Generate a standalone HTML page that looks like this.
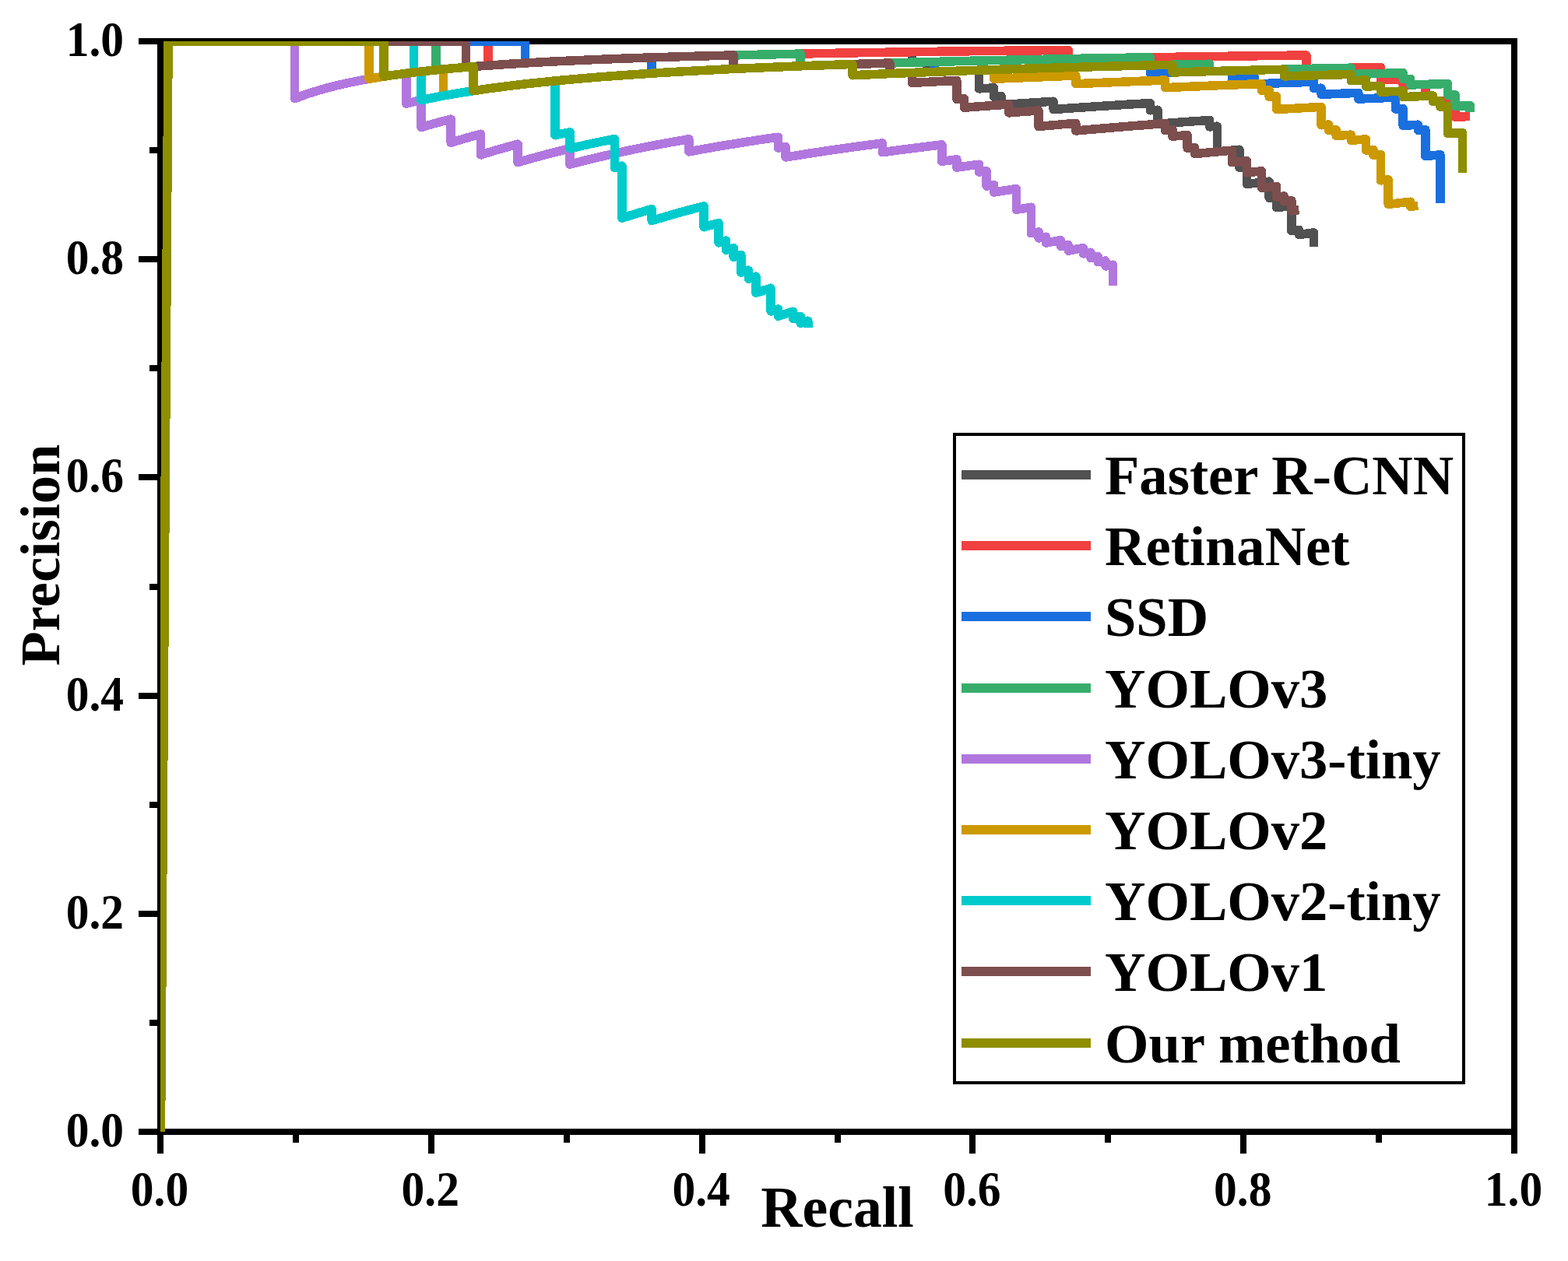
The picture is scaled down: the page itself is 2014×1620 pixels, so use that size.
<!DOCTYPE html>
<html lang="en"><head><meta charset="utf-8"><title>Precision-Recall curves</title>
<style>
html,body{margin:0;padding:0;background:#fff;}
body{width:2014px;height:1620px;overflow:hidden;}
svg{display:block;}
text{font-family:"Liberation Serif","Times New Roman",serif;font-weight:bold;fill:#000;}
.tk{font-size:59.5px;}
.ti{font-size:73.7px;}.tp{font-size:72.6px;}
.lg{font-size:72.6px;}
.ax{stroke:#000;stroke-width:8;fill:none;}
.cv{fill:none;stroke-width:11.5;stroke-linejoin:round;stroke-linecap:butt;}
</style></head><body>
<svg width="2014" height="1620" viewBox="0 0 2014 1620">
<rect x="0" y="0" width="2014" height="1620" fill="#fff"/>
<defs><clipPath id="plot"><rect x="206" y="53" width="1739" height="1402"/></clipPath></defs>
<g class="ax" shape-rendering="crispEdges">
<rect x="206" y="53" width="1739" height="1401"/>
<path d="M206 1454V1482M178 1454H206M379.9 1454V1468M192 1313.9H206M553.8 1454V1482M178 1173.8H206M727.7 1454V1468M192 1033.7H206M901.6 1454V1482M178 893.6H206M1075.5 1454V1468M192 753.5H206M1249.4 1454V1482M178 613.4H206M1423.3 1454V1468M192 473.3H206M1597.2 1454V1482M178 333.2H206M1771.1 1454V1468M192 193.1H206M1945 1454V1482M178 53H206"/>
</g>
<g clip-path="url(#plot)" shape-rendering="crispEdges">
<path class="cv" stroke="#515151" d="M206.5 1454 L216.1 53 L225.6 53 L235.2 53 L244.7 53 L254.3 53 L263.8 53 L273.4 53 L282.9 53 L292.5 53 L302 53 L311.6 53 L321.2 53 L330.7 53 L340.3 53 L349.8 53 L359.4 53 L368.9 53 L378.5 53 L388 53 L397.6 53 L407.2 53 L416.7 53 L426.3 53 L435.8 53 L445.4 53 L454.9 53 L464.5 53 L474 53 L483.6 53 L493.1 53 L502.7 53 L512.3 53 L521.8 53 L531.4 53 L540.9 53 L550.5 53 L560 53 L569.6 53 L579.1 53 L588.7 53 L598.3 53 L607.8 53 L617.4 53 L626.9 53 L636.5 53 L646 53 L655.6 53 L665.1 53 L674.7 53 L674.7 81 L684.2 80.5 L693.8 79.9 L703.4 79.4 L712.9 78.9 L722.5 78.5 L732 78 L741.6 77.6 L751.1 77.2 L760.7 76.7 L770.2 76.4 L779.8 76 L789.4 75.6 L798.9 75.2 L808.5 74.9 L818 74.6 L827.6 74.2 L837.1 73.9 L846.7 73.6 L856.2 73.3 L865.8 73 L875.3 72.7 L884.9 72.5 L894.5 72.2 L904 71.9 L913.6 71.7 L923.1 71.4 L932.7 71.2 L942.2 71 L951.8 70.7 L961.3 70.5 L970.9 70.3 L980.5 70.1 L990 69.9 L999.6 69.7 L1009.1 69.5 L1018.7 69.3 L1028.2 69.1 L1037.8 68.9 L1047.3 68.7 L1056.9 68.6 L1066.4 68.4 L1076 68.2 L1085.6 68.1 L1095.1 67.9 L1104.7 67.7 L1114.2 67.6 L1123.8 67.4 L1133.3 67.3 L1142.9 67.2 L1152.4 67 L1162 66.9 L1171.5 66.7 L1171.5 80.2 L1181.1 79.9 L1190.7 79.7 L1190.7 92.7 L1200.2 92.3 L1209.8 91.9 L1219.3 91.6 L1228.9 91.2 L1238.4 90.9 L1248 90.5 L1257.5 90.2 L1257.5 113.9 L1267.1 113.4 L1276.7 112.9 L1276.7 124.2 L1286.2 123.6 L1286.2 134.7 L1295.8 134 L1305.3 133.4 L1314.9 132.7 L1324.4 132.1 L1334 131.5 L1343.5 130.8 L1353.1 130.2 L1353.1 140.6 L1362.6 139.9 L1372.2 139.2 L1381.8 138.6 L1391.3 137.9 L1400.9 137.3 L1410.4 136.6 L1420 136 L1429.5 135.4 L1439.1 134.8 L1448.6 134.2 L1458.2 133.6 L1467.8 133.1 L1477.3 132.5 L1477.3 141.8 L1486.9 141.2 L1486.9 159.3 L1496.4 158.6 L1506 157.8 L1515.5 157.1 L1525.1 156.4 L1534.6 155.7 L1544.2 155.1 L1553.7 154.4 L1553.7 162.9 L1563.3 162.2 L1563.3 194.9 L1572.9 194 L1582.4 193.1 L1592 192.2 L1592 215.3 L1601.5 214.3 L1601.5 236.5 L1611.1 235.4 L1620.6 234.3 L1630.2 233.2 L1630.2 254.3 L1639.7 253.1 L1639.7 266.7 L1649.3 265.5 L1658.9 264.3 L1658.9 296.7 L1668.4 295.3 L1668.4 301.6 L1678 300.2 L1687.5 298.9 L1687.5 317.1"/>
<path class="cv" stroke="#F14040" d="M206.5 1454 L216.1 53 L225.6 53 L235.2 53 L244.7 53 L254.3 53 L263.8 53 L273.4 53 L282.9 53 L292.5 53 L302 53 L311.6 53 L321.2 53 L330.7 53 L340.3 53 L349.8 53 L359.4 53 L368.9 53 L378.5 53 L388 53 L397.6 53 L407.2 53 L416.7 53 L426.3 53 L435.8 53 L445.4 53 L454.9 53 L464.5 53 L474 53 L483.6 53 L493.1 53 L502.7 53 L512.3 53 L521.8 53 L531.4 53 L540.9 53 L550.5 53 L560 53 L569.6 53 L579.1 53 L588.7 53 L598.3 53 L607.8 53 L617.4 53 L626.9 53 L626.9 84.1 L636.5 83.5 L646 82.8 L655.6 82.2 L665.1 81.6 L674.7 81 L684.2 80.5 L693.8 79.9 L703.4 79.4 L712.9 78.9 L722.5 78.5 L732 78 L741.6 77.6 L751.1 77.2 L760.7 76.7 L770.2 76.4 L779.8 76 L789.4 75.6 L798.9 75.2 L808.5 74.9 L818 74.6 L827.6 74.2 L837.1 73.9 L846.7 73.6 L856.2 73.3 L865.8 73 L875.3 72.7 L884.9 72.5 L894.5 72.2 L904 71.9 L913.6 71.7 L923.1 71.4 L932.7 71.2 L942.2 71 L951.8 70.7 L961.3 70.5 L970.9 70.3 L980.5 70.1 L990 69.9 L999.6 69.7 L1009.1 69.5 L1018.7 69.3 L1028.2 69.1 L1037.8 68.9 L1047.3 68.7 L1056.9 68.6 L1066.4 68.4 L1076 68.2 L1085.6 68.1 L1095.1 67.9 L1104.7 67.7 L1114.2 67.6 L1123.8 67.4 L1133.3 67.3 L1142.9 67.2 L1152.4 67 L1162 66.9 L1171.5 66.7 L1181.1 66.6 L1190.7 66.5 L1200.2 66.3 L1209.8 66.2 L1219.3 66.1 L1228.9 66 L1238.4 65.9 L1248 65.7 L1257.5 65.6 L1267.1 65.5 L1276.7 65.4 L1286.2 65.3 L1295.8 65.2 L1305.3 65.1 L1314.9 65 L1324.4 64.9 L1334 64.8 L1343.5 64.7 L1353.1 64.6 L1362.6 64.5 L1372.2 64.4 L1372.2 75.6 L1381.8 75.4 L1391.3 75.2 L1400.9 75.1 L1410.4 74.9 L1420 74.7 L1429.5 74.6 L1439.1 74.4 L1448.6 74.2 L1458.2 74.1 L1467.8 73.9 L1477.3 73.8 L1486.9 73.6 L1496.4 73.5 L1506 73.3 L1515.5 73.2 L1525.1 73 L1534.6 72.9 L1544.2 72.7 L1553.7 72.6 L1563.3 72.5 L1572.9 72.3 L1582.4 72.2 L1592 72.1 L1601.5 71.9 L1611.1 71.8 L1620.6 71.7 L1630.2 71.6 L1639.7 71.4 L1649.3 71.3 L1658.9 71.2 L1668.4 71.1 L1678 71 L1678 88.5 L1687.5 88.2 L1697.1 88 L1706.6 87.8 L1716.2 87.6 L1725.7 87.4 L1735.3 87.2 L1744.8 87 L1754.4 86.8 L1764 86.6 L1773.5 86.4 L1773.5 102.4 L1783.1 102.2 L1792.6 101.9 L1802.2 101.6 L1802.2 109.4 L1811.7 109 L1821.3 108.7 L1830.8 108.4 L1830.8 123.4 L1840.4 123 L1840.4 130.4 L1850 130 L1859.5 129.6 L1869.1 129.1 L1869.1 150.4 L1878.6 149.9 L1888.2 149.4"/>
<path class="cv" stroke="#1A6FDF" d="M206.5 1454 L216.1 53 L225.6 53 L235.2 53 L244.7 53 L254.3 53 L263.8 53 L273.4 53 L282.9 53 L292.5 53 L302 53 L311.6 53 L321.2 53 L330.7 53 L340.3 53 L349.8 53 L359.4 53 L368.9 53 L378.5 53 L388 53 L397.6 53 L407.2 53 L416.7 53 L426.3 53 L435.8 53 L445.4 53 L454.9 53 L464.5 53 L474 53 L483.6 53 L493.1 53 L502.7 53 L512.3 53 L521.8 53 L531.4 53 L540.9 53 L550.5 53 L560 53 L569.6 53 L579.1 53 L588.7 53 L598.3 53 L607.8 53 L617.4 53 L626.9 53 L636.5 53 L646 53 L655.6 53 L665.1 53 L674.7 53 L674.7 81 L684.2 80.5 L693.8 79.9 L703.4 79.4 L712.9 78.9 L722.5 78.5 L732 78 L741.6 77.6 L751.1 77.2 L760.7 76.7 L770.2 76.4 L779.8 76 L789.4 75.6 L798.9 75.2 L808.5 74.9 L818 74.6 L827.6 74.2 L837.1 73.9 L837.1 94.2 L846.7 93.6 L856.2 93 L865.8 92.5 L875.3 91.9 L884.9 91.4 L894.5 90.9 L904 90.4 L913.6 89.9 L923.1 89.4 L932.7 88.9 L942.2 88.5 L951.8 88 L961.3 87.6 L970.9 87.2 L980.5 86.8 L990 86.4 L999.6 86 L1009.1 85.6 L1018.7 85.2 L1028.2 84.8 L1037.8 84.5 L1047.3 84.1 L1056.9 83.8 L1066.4 83.5 L1076 83.1 L1085.6 82.8 L1095.1 82.5 L1104.7 82.2 L1114.2 81.9 L1123.8 81.6 L1133.3 81.3 L1142.9 81 L1152.4 80.7 L1162 80.5 L1171.5 80.2 L1181.1 79.9 L1190.7 79.7 L1200.2 79.4 L1200.2 92.3 L1209.8 91.9 L1219.3 91.6 L1228.9 91.2 L1238.4 90.9 L1248 90.5 L1257.5 90.2 L1267.1 89.9 L1276.7 89.5 L1286.2 89.2 L1295.8 88.9 L1305.3 88.6 L1314.9 88.3 L1324.4 88 L1334 87.7 L1343.5 87.5 L1353.1 87.2 L1362.6 86.9 L1372.2 86.6 L1381.8 86.4 L1391.3 86.1 L1400.9 85.8 L1410.4 85.6 L1420 85.3 L1429.5 85.1 L1439.1 84.8 L1448.6 84.6 L1458.2 84.4 L1467.8 84.1 L1477.3 83.9 L1477.3 93.9 L1486.9 93.6 L1496.4 93.3 L1506 93 L1515.5 92.7 L1525.1 92.5 L1534.6 92.2 L1544.2 91.9 L1553.7 91.6 L1563.3 91.4 L1572.9 91.1 L1582.4 90.9 L1582.4 100 L1592 99.7 L1601.5 99.4 L1611.1 99.1 L1611.1 107.9 L1620.6 107.6 L1630.2 107.2 L1639.7 106.9 L1649.3 106.5 L1658.9 106.2 L1668.4 105.9 L1678 105.5 L1687.5 105.2 L1687.5 113.5 L1697.1 113.2 L1697.1 121.3 L1706.6 120.9 L1716.2 120.5 L1725.7 120.1 L1735.3 119.7 L1744.8 119.3 L1744.8 127.2 L1754.4 126.7 L1764 126.3 L1773.5 125.9 L1783.1 125.5 L1792.6 125.1 L1792.6 140.1 L1802.2 139.6 L1802.2 161.4 L1811.7 160.8 L1821.3 160.2 L1821.3 167.2 L1830.8 166.6 L1830.8 200.5 L1840.4 199.7 L1850 198.9 L1850 261.1"/>
<path class="cv" stroke="#37AD6B" d="M206.5 1454 L216.1 53 L225.6 53 L235.2 53 L244.7 53 L254.3 53 L263.8 53 L273.4 53 L282.9 53 L292.5 53 L302 53 L311.6 53 L321.2 53 L330.7 53 L340.3 53 L349.8 53 L359.4 53 L368.9 53 L378.5 53 L388 53 L397.6 53 L407.2 53 L416.7 53 L426.3 53 L435.8 53 L445.4 53 L454.9 53 L464.5 53 L474 53 L483.6 53 L493.1 53 L502.7 53 L512.3 53 L521.8 53 L531.4 53 L540.9 53 L550.5 53 L560 53 L560 89.9 L569.6 88.9 L579.1 88 L588.7 87.2 L598.3 86.4 L607.8 85.6 L617.4 84.8 L626.9 84.1 L636.5 83.5 L646 82.8 L655.6 82.2 L665.1 81.6 L674.7 81 L684.2 80.5 L693.8 79.9 L703.4 79.4 L712.9 78.9 L722.5 78.5 L732 78 L741.6 77.6 L751.1 77.2 L760.7 76.7 L770.2 76.4 L779.8 76 L789.4 75.6 L798.9 75.2 L808.5 74.9 L818 74.6 L827.6 74.2 L837.1 73.9 L846.7 73.6 L856.2 73.3 L865.8 73 L875.3 72.7 L884.9 72.5 L894.5 72.2 L904 71.9 L913.6 71.7 L923.1 71.4 L932.7 71.2 L942.2 71 L951.8 70.7 L961.3 70.5 L970.9 70.3 L980.5 70.1 L990 69.9 L999.6 69.7 L1009.1 69.5 L1018.7 69.3 L1028.2 69.1 L1028.2 84.8 L1037.8 84.5 L1047.3 84.1 L1056.9 83.8 L1066.4 83.5 L1076 83.1 L1085.6 82.8 L1095.1 82.5 L1104.7 82.2 L1114.2 81.9 L1123.8 81.6 L1133.3 81.3 L1142.9 81 L1152.4 80.7 L1162 80.5 L1171.5 80.2 L1181.1 79.9 L1190.7 79.7 L1200.2 79.4 L1209.8 79.2 L1219.3 78.9 L1228.9 78.7 L1238.4 78.5 L1248 78.2 L1257.5 78 L1267.1 77.8 L1276.7 77.6 L1286.2 77.4 L1295.8 77.2 L1305.3 76.9 L1314.9 76.7 L1324.4 76.5 L1334 76.4 L1343.5 76.2 L1353.1 76 L1362.6 75.8 L1372.2 75.6 L1381.8 75.4 L1391.3 75.2 L1400.9 75.1 L1410.4 74.9 L1420 74.7 L1429.5 74.6 L1439.1 74.4 L1448.6 74.2 L1458.2 74.1 L1467.8 73.9 L1477.3 73.8 L1477.3 83.9 L1486.9 83.7 L1496.4 83.5 L1506 83.2 L1515.5 83 L1525.1 82.8 L1534.6 82.6 L1544.2 82.4 L1553.7 82.2 L1553.7 91.6 L1563.3 91.4 L1572.9 91.1 L1582.4 90.9 L1592 90.6 L1601.5 90.4 L1611.1 90.1 L1620.6 89.9 L1630.2 89.6 L1639.7 89.4 L1649.3 89.2 L1658.9 88.9 L1668.4 88.7 L1678 88.5 L1687.5 88.2 L1697.1 88 L1706.6 87.8 L1716.2 87.6 L1725.7 87.4 L1735.3 87.2 L1735.3 95.5 L1744.8 95.2 L1754.4 94.9 L1764 94.7 L1773.5 94.4 L1783.1 94.2 L1792.6 94 L1802.2 93.7 L1802.2 101.6 L1811.7 101.3 L1811.7 109 L1821.3 108.7 L1830.8 108.4 L1840.4 108.1 L1850 107.8 L1859.5 107.5 L1859.5 122.3 L1869.1 121.9 L1869.1 136.3 L1878.6 135.9 L1888.2 135.4 L1888.2 143.8"/>
<path class="cv" stroke="#B177DE" d="M206.5 1454 L216.1 53 L225.6 53 L235.2 53 L244.7 53 L254.3 53 L263.8 53 L273.4 53 L282.9 53 L292.5 53 L302 53 L311.6 53 L321.2 53 L330.7 53 L340.3 53 L349.8 53 L359.4 53 L368.9 53 L378.5 53 L378.5 126.7 L388 123 L397.6 119.7 L407.2 116.7 L416.7 113.9 L426.3 111.4 L435.8 109 L445.4 106.9 L454.9 104.9 L464.5 103 L474 101.3 L483.6 99.7 L493.1 98.2 L502.7 96.8 L512.3 95.5 L521.8 94.2 L521.8 133.1 L531.4 130.8 L540.9 128.7 L540.9 163.6 L550.5 160.8 L560 158.1 L569.6 155.5 L579.1 153.1 L579.1 183.3 L588.7 180.4 L598.3 177.5 L607.8 174.8 L617.4 172.2 L617.4 198.9 L626.9 196 L636.5 193.1 L646 190.4 L655.6 187.7 L665.1 185.2 L665.1 208.7 L674.7 205.8 L684.2 203.1 L693.8 200.5 L703.4 197.9 L712.9 195.5 L722.5 193.1 L732 190.8 L732 211.2 L741.6 208.7 L751.1 206.2 L760.7 203.9 L770.2 201.6 L779.8 199.4 L789.4 197.2 L798.9 195.1 L808.5 193.1 L818 191.1 L827.6 189.2 L837.1 187.3 L846.7 185.5 L856.2 183.8 L865.8 182 L875.3 180.4 L884.9 178.7 L884.9 194.9 L894.5 193.1 L904 191.4 L913.6 189.7 L923.1 188 L932.7 186.4 L942.2 184.9 L951.8 183.3 L961.3 181.8 L970.9 180.4 L980.5 178.9 L990 177.5 L999.6 176.2 L999.6 190.1 L1009.1 188.6 L1009.1 202 L1018.7 200.5 L1028.2 198.9 L1037.8 197.4 L1047.3 196 L1056.9 194.5 L1066.4 193.1 L1076 191.7 L1085.6 190.4 L1095.1 189 L1104.7 187.7 L1114.2 186.4 L1123.8 185.2 L1133.3 183.9 L1133.3 195.7 L1142.9 194.4 L1152.4 193.1 L1162 191.8 L1171.5 190.6 L1181.1 189.4 L1190.7 188.2 L1200.2 187 L1209.8 185.9 L1209.8 207.3 L1219.3 206.1 L1228.9 204.8 L1228.9 215.1 L1238.4 213.8 L1248 212.5 L1257.5 211.2 L1257.5 221.1 L1267.1 219.8 L1267.1 239.1 L1276.7 237.6 L1276.7 247 L1286.2 245.5 L1295.8 244 L1305.3 242.6 L1305.3 269.3 L1314.9 267.8 L1324.4 266.2 L1324.4 299.7 L1334 297.9 L1334 306 L1343.5 304.2 L1343.5 312.1 L1353.1 310.3 L1362.6 308.6 L1362.6 316.3 L1372.2 314.5 L1372.2 322.1 L1381.8 320.3 L1391.3 318.5 L1391.3 325.9 L1400.9 324.2 L1400.9 331.4 L1410.4 329.6 L1410.4 336.7 L1420 335 L1420 342 L1429.5 340.2 L1429.5 367.2"/>
<path class="cv" stroke="#CC9900" d="M206.5 1454 L216.1 53 L225.6 53 L235.2 53 L244.7 53 L254.3 53 L263.8 53 L273.4 53 L282.9 53 L292.5 53 L302 53 L311.6 53 L321.2 53 L330.7 53 L340.3 53 L349.8 53 L359.4 53 L368.9 53 L378.5 53 L388 53 L397.6 53 L407.2 53 L416.7 53 L426.3 53 L435.8 53 L445.4 53 L454.9 53 L464.5 53 L474 53 L474 101.3 L483.6 99.7 L493.1 98.2 L502.7 96.8 L512.3 95.5 L521.8 94.2 L531.4 93 L540.9 91.9 L550.5 90.9 L560 89.9 L569.6 88.9 L569.6 123 L579.1 121.3 L588.7 119.7 L598.3 118.2 L607.8 116.7 L617.4 115.3 L626.9 113.9 L636.5 112.6 L646 111.4 L655.6 110.2 L665.1 109 L674.7 107.9 L684.2 106.9 L693.8 105.9 L703.4 104.9 L712.9 103.9 L722.5 103 L732 102.2 L741.6 101.3 L751.1 100.5 L760.7 99.7 L770.2 98.9 L779.8 98.2 L789.4 97.5 L798.9 96.8 L808.5 96.1 L818 95.5 L827.6 94.8 L837.1 94.2 L846.7 93.6 L856.2 93 L865.8 92.5 L875.3 91.9 L884.9 91.4 L894.5 90.9 L904 90.4 L913.6 89.9 L923.1 89.4 L932.7 88.9 L942.2 88.5 L951.8 88 L961.3 87.6 L970.9 87.2 L980.5 86.8 L990 86.4 L999.6 86 L1009.1 85.6 L1018.7 85.2 L1028.2 84.8 L1037.8 84.5 L1047.3 84.1 L1056.9 83.8 L1066.4 83.5 L1076 83.1 L1085.6 82.8 L1095.1 82.5 L1095.1 96.8 L1104.7 96.3 L1114.2 95.9 L1123.8 95.5 L1133.3 95 L1142.9 94.6 L1152.4 94.2 L1162 93.8 L1171.5 93.4 L1181.1 93 L1190.7 92.7 L1200.2 92.3 L1209.8 91.9 L1219.3 91.6 L1228.9 91.2 L1238.4 90.9 L1248 90.5 L1257.5 90.2 L1267.1 89.9 L1276.7 89.5 L1276.7 101.3 L1286.2 100.9 L1295.8 100.5 L1305.3 100.1 L1314.9 99.7 L1324.4 99.3 L1334 98.9 L1343.5 98.6 L1353.1 98.2 L1362.6 97.8 L1372.2 97.5 L1381.8 97.1 L1381.8 107.7 L1391.3 107.3 L1400.9 106.9 L1410.4 106.5 L1420 106.1 L1429.5 105.7 L1439.1 105.3 L1448.6 104.9 L1458.2 104.5 L1467.8 104.1 L1477.3 103.8 L1486.9 103.4 L1496.4 103 L1496.4 112.6 L1506 112.2 L1515.5 111.8 L1525.1 111.4 L1534.6 111 L1544.2 110.6 L1553.7 110.2 L1563.3 109.8 L1572.9 109.4 L1582.4 109 L1592 108.7 L1601.5 108.3 L1611.1 107.9 L1620.6 107.6 L1620.6 116.3 L1630.2 115.9 L1630.2 124.4 L1639.7 123.9 L1639.7 140.6 L1649.3 140 L1658.9 139.5 L1668.4 139 L1678 138.4 L1687.5 137.9 L1697.1 137.4 L1697.1 160.8 L1706.6 160.1 L1706.6 167.7 L1716.2 167 L1716.2 174.5 L1725.7 173.8 L1735.3 173.1 L1735.3 180.4 L1744.8 179.6 L1754.4 178.9 L1754.4 193.1 L1764 192.3 L1764 199.3 L1773.5 198.5 L1773.5 231.9 L1783.1 230.9 L1783.1 262.4 L1792.6 261.4 L1802.2 260.3 L1811.7 259.2 L1811.7 265.3 L1821.3 264.2"/>
<path class="cv" stroke="#00CBCC" d="M206.5 1454 L216.1 53 L225.6 53 L235.2 53 L244.7 53 L254.3 53 L263.8 53 L273.4 53 L282.9 53 L292.5 53 L302 53 L311.6 53 L321.2 53 L330.7 53 L340.3 53 L349.8 53 L359.4 53 L368.9 53 L378.5 53 L388 53 L397.6 53 L407.2 53 L416.7 53 L426.3 53 L435.8 53 L445.4 53 L454.9 53 L464.5 53 L474 53 L483.6 53 L493.1 53 L502.7 53 L512.3 53 L521.8 53 L531.4 53 L531.4 93 L540.9 91.9 L540.9 128.7 L550.5 126.7 L560 124.8 L569.6 123 L579.1 121.3 L588.7 119.7 L598.3 118.2 L607.8 116.7 L617.4 115.3 L626.9 113.9 L636.5 112.6 L646 111.4 L655.6 110.2 L665.1 109 L674.7 107.9 L684.2 106.9 L693.8 105.9 L703.4 104.9 L712.9 103.9 L712.9 173.8 L722.5 171.7 L732 169.8 L732 190.8 L741.6 188.6 L751.1 186.4 L760.7 184.3 L770.2 182.3 L779.8 180.4 L789.4 178.5 L789.4 215.4 L798.9 213.1 L798.9 280.2 L808.5 277.2 L818 274.2 L827.6 271.3 L837.1 268.5 L837.1 283.5 L846.7 280.7 L856.2 277.9 L865.8 275.1 L875.3 272.4 L884.9 269.8 L894.5 267.3 L904 264.8 L904 291.8 L913.6 289.1 L923.1 286.5 L923.1 311.9 L932.7 309.1 L932.7 321.3 L942.2 318.5 L942.2 330.3 L951.8 327.4 L951.8 350.2 L961.3 347.2 L961.3 358.2 L970.9 355.2 L970.9 376.3 L980.5 373.2 L990 370.2 L990 400 L999.6 396.9 L999.6 406.4 L1009.1 403.2 L1018.7 400.2 L1018.7 409.4 L1028.2 406.3 L1028.2 415.3 L1037.8 412.2 L1037.8 421.1"/>
<path class="cv" stroke="#7D4E4E" d="M206.5 1454 L216.1 53 L225.6 53 L235.2 53 L244.7 53 L254.3 53 L263.8 53 L273.4 53 L282.9 53 L292.5 53 L302 53 L311.6 53 L321.2 53 L330.7 53 L340.3 53 L349.8 53 L359.4 53 L368.9 53 L378.5 53 L388 53 L397.6 53 L407.2 53 L416.7 53 L426.3 53 L435.8 53 L445.4 53 L454.9 53 L464.5 53 L474 53 L483.6 53 L493.1 53 L502.7 53 L512.3 53 L521.8 53 L531.4 53 L540.9 53 L550.5 53 L560 53 L569.6 53 L579.1 53 L588.7 53 L598.3 53 L598.3 86.4 L607.8 85.6 L617.4 84.8 L626.9 84.1 L636.5 83.5 L646 82.8 L655.6 82.2 L665.1 81.6 L674.7 81 L684.2 80.5 L693.8 79.9 L703.4 79.4 L712.9 78.9 L722.5 78.5 L732 78 L741.6 77.6 L751.1 77.2 L760.7 76.7 L770.2 76.4 L779.8 76 L789.4 75.6 L798.9 75.2 L808.5 74.9 L818 74.6 L827.6 74.2 L837.1 73.9 L846.7 73.6 L856.2 73.3 L865.8 73 L875.3 72.7 L884.9 72.5 L894.5 72.2 L904 71.9 L913.6 71.7 L923.1 71.4 L932.7 71.2 L942.2 71 L942.2 88.5 L951.8 88 L961.3 87.6 L970.9 87.2 L980.5 86.8 L990 86.4 L999.6 86 L1009.1 85.6 L1018.7 85.2 L1028.2 84.8 L1037.8 84.5 L1047.3 84.1 L1056.9 83.8 L1066.4 83.5 L1076 83.1 L1085.6 82.8 L1095.1 82.5 L1104.7 82.2 L1114.2 81.9 L1123.8 81.6 L1133.3 81.3 L1142.9 81 L1142.9 94.6 L1152.4 94.2 L1162 93.8 L1171.5 93.4 L1171.5 106.4 L1181.1 105.9 L1190.7 105.4 L1200.2 104.9 L1209.8 104.4 L1219.3 103.9 L1228.9 103.5 L1228.9 127.4 L1238.4 126.7 L1238.4 138.3 L1248 137.5 L1257.5 136.8 L1267.1 136.1 L1276.7 135.4 L1286.2 134.7 L1295.8 134 L1295.8 144.9 L1305.3 144.1 L1314.9 143.4 L1324.4 142.7 L1334 142 L1334 162.5 L1343.5 161.6 L1353.1 160.8 L1362.6 159.9 L1372.2 159.1 L1381.8 158.3 L1381.8 168 L1391.3 167.2 L1400.9 166.3 L1410.4 165.5 L1420 164.7 L1429.5 163.9 L1439.1 163.1 L1448.6 162.3 L1458.2 161.5 L1467.8 160.8 L1477.3 160 L1486.9 159.3 L1496.4 158.6 L1496.4 167.4 L1506 166.6 L1506 175.2 L1515.5 174.4 L1525.1 173.6 L1525.1 190.4 L1534.6 189.5 L1534.6 197.6 L1544.2 196.7 L1553.7 195.8 L1563.3 194.9 L1572.9 194 L1582.4 193.1 L1582.4 208.7 L1592 207.7 L1601.5 206.8 L1601.5 221.8 L1611.1 220.8 L1620.6 219.8 L1620.6 241.4 L1630.2 240.3 L1639.7 239.3 L1639.7 253.1 L1649.3 252 L1649.3 258.8 L1658.9 257.6 L1658.9 270.9 L1668.4 269.7"/>
<path class="cv" stroke="#8E8E00" d="M206.5 1454 L216.1 53 L225.6 53 L235.2 53 L244.7 53 L254.3 53 L263.8 53 L273.4 53 L282.9 53 L292.5 53 L302 53 L311.6 53 L321.2 53 L330.7 53 L340.3 53 L349.8 53 L359.4 53 L368.9 53 L378.5 53 L388 53 L397.6 53 L407.2 53 L416.7 53 L426.3 53 L435.8 53 L445.4 53 L454.9 53 L464.5 53 L474 53 L483.6 53 L493.1 53 L493.1 98.2 L502.7 96.8 L512.3 95.5 L521.8 94.2 L531.4 93 L540.9 91.9 L550.5 90.9 L560 89.9 L569.6 88.9 L579.1 88 L588.7 87.2 L598.3 86.4 L607.8 85.6 L607.8 116.7 L617.4 115.3 L626.9 113.9 L636.5 112.6 L646 111.4 L655.6 110.2 L665.1 109 L674.7 107.9 L684.2 106.9 L693.8 105.9 L703.4 104.9 L712.9 103.9 L722.5 103 L732 102.2 L741.6 101.3 L751.1 100.5 L760.7 99.7 L770.2 98.9 L779.8 98.2 L789.4 97.5 L798.9 96.8 L808.5 96.1 L818 95.5 L827.6 94.8 L837.1 94.2 L846.7 93.6 L856.2 93 L865.8 92.5 L875.3 91.9 L884.9 91.4 L894.5 90.9 L904 90.4 L913.6 89.9 L923.1 89.4 L932.7 88.9 L942.2 88.5 L951.8 88 L961.3 87.6 L970.9 87.2 L980.5 86.8 L990 86.4 L999.6 86 L1009.1 85.6 L1018.7 85.2 L1028.2 84.8 L1037.8 84.5 L1047.3 84.1 L1056.9 83.8 L1066.4 83.5 L1076 83.1 L1085.6 82.8 L1095.1 82.5 L1095.1 96.8 L1104.7 96.3 L1114.2 95.9 L1123.8 95.5 L1133.3 95 L1142.9 94.6 L1152.4 94.2 L1162 93.8 L1171.5 93.4 L1181.1 93 L1190.7 92.7 L1200.2 92.3 L1209.8 91.9 L1219.3 91.6 L1228.9 91.2 L1238.4 90.9 L1248 90.5 L1257.5 90.2 L1267.1 89.9 L1276.7 89.5 L1286.2 89.2 L1295.8 88.9 L1305.3 88.6 L1314.9 88.3 L1324.4 88 L1334 87.7 L1343.5 87.5 L1353.1 87.2 L1362.6 86.9 L1372.2 86.6 L1381.8 86.4 L1391.3 86.1 L1400.9 85.8 L1410.4 85.6 L1420 85.3 L1429.5 85.1 L1439.1 84.8 L1448.6 84.6 L1458.2 84.4 L1467.8 84.1 L1477.3 83.9 L1486.9 83.7 L1496.4 83.5 L1506 83.2 L1506 93 L1515.5 92.7 L1525.1 92.5 L1534.6 92.2 L1544.2 91.9 L1553.7 91.6 L1563.3 91.4 L1572.9 91.1 L1582.4 90.9 L1592 90.6 L1601.5 90.4 L1611.1 90.1 L1620.6 89.9 L1630.2 89.6 L1639.7 89.4 L1649.3 89.2 L1649.3 97.9 L1658.9 97.6 L1668.4 97.3 L1678 97.1 L1687.5 96.8 L1697.1 96.5 L1706.6 96.2 L1716.2 96 L1725.7 95.7 L1735.3 95.5 L1735.3 103.6 L1744.8 103.3 L1754.4 103 L1754.4 111 L1764 110.7 L1773.5 110.4 L1773.5 118.2 L1783.1 117.8 L1792.6 117.4 L1802.2 117 L1802.2 124.6 L1811.7 124.2 L1821.3 123.8 L1830.8 123.4 L1840.4 123 L1840.4 130.4 L1850 130 L1850 137.2 L1859.5 136.8 L1859.5 171.6 L1869.1 171 L1878.6 170.4 L1878.6 222"/>
</g>
<g class="tk" text-anchor="middle">
<text transform="translate(205 1549) scale(1 1.05)">0.0</text>
<text transform="translate(552.8 1549) scale(1 1.05)">0.2</text>
<text transform="translate(900.6 1549) scale(1 1.05)">0.4</text>
<text transform="translate(1248.4 1549) scale(1 1.05)">0.6</text>
<text transform="translate(1596.2 1549) scale(1 1.05)">0.8</text>
<text transform="translate(1944 1549) scale(1 1.05)">1.0</text>
</g>
<g class="tk" text-anchor="end">
<text transform="translate(159 1473) scale(1 1.05)">0.0</text>
<text transform="translate(159 1192.8) scale(1 1.05)">0.2</text>
<text transform="translate(159 912.6) scale(1 1.05)">0.4</text>
<text transform="translate(159 632.4) scale(1 1.05)">0.6</text>
<text transform="translate(159 352.2) scale(1 1.05)">0.8</text>
<text transform="translate(159 72) scale(1 1.05)">1.0</text>
</g>
<text class="ti" x="1075.5" y="1576" text-anchor="middle">Recall</text>
<text class="tp" transform="translate(75.5 713) rotate(-90)" text-anchor="middle">Precision</text>
<rect x="1225.8" y="557.7" width="654.2" height="833" fill="#fff" stroke="#000" stroke-width="4.2" shape-rendering="crispEdges"/>
<line x1="1235" y1="609.9" x2="1401" y2="609.9" stroke="#515151" stroke-width="12" shape-rendering="crispEdges"/>
<text class="lg" x="1419" y="634.9">Faster R-CNN</text>
<line x1="1235" y1="701.1" x2="1401" y2="701.1" stroke="#F14040" stroke-width="12" shape-rendering="crispEdges"/>
<text class="lg" x="1419" y="726.1">RetinaNet</text>
<line x1="1235" y1="792.3" x2="1401" y2="792.3" stroke="#1A6FDF" stroke-width="12" shape-rendering="crispEdges"/>
<text class="lg" x="1419" y="817.3">SSD</text>
<line x1="1235" y1="883.5" x2="1401" y2="883.5" stroke="#37AD6B" stroke-width="12" shape-rendering="crispEdges"/>
<text class="lg" x="1419" y="908.5">YOLOv3</text>
<line x1="1235" y1="974.7" x2="1401" y2="974.7" stroke="#B177DE" stroke-width="12" shape-rendering="crispEdges"/>
<text class="lg" x="1419" y="999.7">YOLOv3-tiny</text>
<line x1="1235" y1="1065.9" x2="1401" y2="1065.9" stroke="#CC9900" stroke-width="12" shape-rendering="crispEdges"/>
<text class="lg" x="1419" y="1090.9">YOLOv2</text>
<line x1="1235" y1="1157.1" x2="1401" y2="1157.1" stroke="#00CBCC" stroke-width="12" shape-rendering="crispEdges"/>
<text class="lg" x="1419" y="1182.1">YOLOv2-tiny</text>
<line x1="1235" y1="1248.3" x2="1401" y2="1248.3" stroke="#7D4E4E" stroke-width="12" shape-rendering="crispEdges"/>
<text class="lg" x="1419" y="1273.3">YOLOv1</text>
<line x1="1235" y1="1339.5" x2="1401" y2="1339.5" stroke="#8E8E00" stroke-width="12" shape-rendering="crispEdges"/>
<text class="lg" x="1419" y="1364.5">Our method</text>
</svg>
</body></html>
